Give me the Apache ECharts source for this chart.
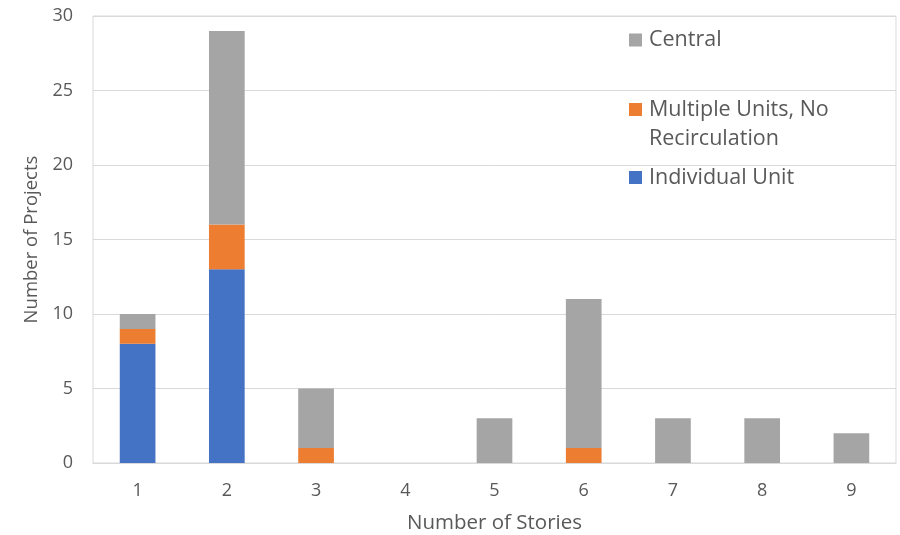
<!DOCTYPE html>
<html>
<head>
<meta charset="utf-8">
<script src="https://cdn.jsdelivr.net/npm/echarts@6/dist/echarts.min.js"></script>
<style>
  html, body { margin: 0; padding: 0; background: #fff; }
  #chart { width: 900px; height: 535px; }
</style>
</head>
<body>
<div id="chart"></div>
<script>
// Number of stories per building
const stories = ['1', '2', '3', '4', '5', '6', '7', '8', '9'];
// Project counts by water-heating system type (stacked bottom to top)
const individualUnit = [8, 13, 0, 0, 0, 0, 0, 0, 0];
const multipleUnits = [1, 3, 1, 0, 0, 1, 0, 0, 0];
const central = [1, 13, 4, 0, 3, 10, 3, 3, 2];
const yTicks = [0, 5, 10, 15, 20, 25, 30];

const FONT = '"Open Sans", "Noto Sans", sans-serif';
const TEXT = '#595959';
const GRID = '#D9D9D9';
const COLORS = { central: '#A5A5A5', multiple: '#ED7D31', individual: '#4472C4' };
const LEGEND_SIZE = 21.5;

const chart = echarts.init(document.getElementById('chart'), null, { renderer: 'canvas' });

function legendItem(name, top, extra) {
  return Object.assign({
    data: [name],
    left: 629,
    top: top,
    padding: 0,
    orient: 'vertical',
    itemWidth: 13,
    itemHeight: 13,
    icon: 'rect',
    selectedMode: false,
    textStyle: { color: TEXT, fontFamily: FONT, fontSize: LEGEND_SIZE, padding: [0, 0, 0, 2] }
  }, extra || {});
}

chart.setOption({
  animation: false,
  backgroundColor: '#fff',
  grid: {
    left: 93, right: 4, top: 16, bottom: 72,
    outerBoundsMode: 'none',
    show: true, borderColor: GRID, borderWidth: 1
  },
  legend: [
    legendItem('Central', 29),
    // long name: first line goes with the swatch, second line is drawn below
    legendItem('Multiple Units, No Recirculation', 98.5, {
      formatter: () => 'Multiple Units, No'
    }),
    legendItem('Individual Unit', 166.5)
  ],
  graphic: [{
    type: 'text',
    left: 649,
    top: 127.5,
    style: {
      text: 'Recirculation',
      fill: TEXT,
      font: LEGEND_SIZE + 'px ' + FONT
    }
  }],
  xAxis: {
    type: 'category',
    data: stories,
    name: 'Number of Stories',
    nameLocation: 'middle',
    nameGap: 50,
    nameTextStyle: { color: TEXT, fontFamily: FONT, fontSize: 20.5 },
    axisLine: { show: true, lineStyle: { color: GRID, width: 1 } },
    axisTick: { show: false },
    axisLabel: { color: TEXT, fontFamily: FONT, fontSize: 18, margin: 19 }
  },
  yAxis: {
    type: 'value',
    min: yTicks[0],
    max: yTicks[yTicks.length - 1],
    interval: yTicks[1] - yTicks[0],
    name: 'Number of Projects',
    nameLocation: 'middle',
    nameGap: 47,
    nameRotate: 90,
    nameTextStyle: { color: TEXT, fontFamily: FONT, fontSize: 18.5 },
    axisLine: { show: false },
    axisTick: { show: false },
    axisLabel: { color: TEXT, fontFamily: FONT, fontSize: 18, margin: 20 },
    splitLine: { show: true, lineStyle: { color: GRID, width: 1 } }
  },
  series: [
    { name: 'Individual Unit', type: 'bar', stack: 'total', data: individualUnit,
      barWidth: '40%', itemStyle: { color: COLORS.individual } },
    { name: 'Multiple Units, No Recirculation', type: 'bar', stack: 'total', data: multipleUnits,
      barWidth: '40%', itemStyle: { color: COLORS.multiple } },
    { name: 'Central', type: 'bar', stack: 'total', data: central,
      barWidth: '40%', itemStyle: { color: COLORS.central } }
  ]
});
</script>
</body>
</html>
